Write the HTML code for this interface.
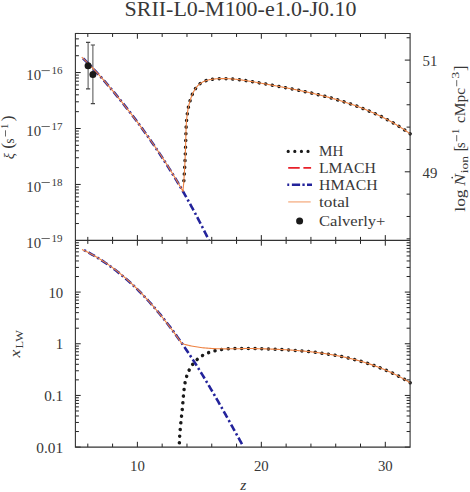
<!DOCTYPE html>
<html><head><meta charset="utf-8"><title>chart</title>
<style>html,body{margin:0;padding:0;background:#fff;}body{width:470px;height:492px;overflow:hidden;position:relative;font-family:"Liberation Serif",serif;}</style></head>
<body>
<svg width="470" height="492" viewBox="0 0 470 492" style="position:absolute;left:0;top:0;font-family:'Liberation Serif',serif">
<rect width="470" height="492" fill="#fff"/>
<defs><clipPath id="ct"><rect x="75.4" y="33.45" width="337.20000000000005" height="207.54999999999998"/></clipPath><clipPath id="cb"><rect x="75.4" y="240.4" width="337.20000000000005" height="207.9"/></clipPath></defs>
<g clip-path="url(#ct)">
<g stroke="#444" fill="none"><path stroke-width="0.95" d="M88.1,42.3V88.9M92.9,45V103.7"/><path stroke-width="1.2" d="M86,42.3h4.2M86,88.9h4.2M90.8,45h4.2M90.8,103.7h4.2"/></g>
<path d="M410.17,133.81 L409.49,133.33 L408.81,132.85 L408.13,132.37 L407.45,131.90 L406.77,131.43 L406.08,130.96 L405.40,130.50 L404.71,130.03 L404.02,129.58 L403.33,129.12 L402.64,128.67 L401.94,128.22 L401.25,127.78 L400.55,127.34 L399.86,126.90 L399.16,126.47 L398.46,126.03 L397.76,125.61 L397.06,125.18 L396.35,124.76 L395.65,124.34 L394.94,123.92 L394.23,123.51 L393.52,123.10 L392.81,122.69 L392.10,122.29 L391.39,121.89 L390.68,121.49 L389.96,121.10 L389.25,120.70 L388.53,120.32 L387.81,119.93 L387.09,119.55 L386.37,119.17 L385.65,118.79 L384.92,118.41 L384.20,118.04 L383.47,117.67 L382.75,117.31 L382.02,116.94 L381.29,116.58 L380.56,116.22 L379.83,115.87 L379.10,115.52 L378.36,115.17 L377.63,114.82 L376.89,114.47 L376.16,114.13 L375.42,113.79 L374.68,113.46 L373.94,113.12 L373.20,112.79 L372.46,112.46 L371.71,112.14 L370.97,111.81 L370.23,111.49 L369.48,111.17 L368.73,110.86 L367.99,110.54 L367.24,110.23 L366.49,109.92 L365.74,109.61 L364.99,109.31 L364.23,109.01 L363.48,108.71 L362.73,108.41 L361.97,108.11 L361.21,107.82 L360.46,107.53 L359.70,107.24 L358.94,106.96 L358.18,106.67 L357.42,106.39 L356.66,106.11 L355.90,105.83 L355.13,105.56 L354.37,105.29 L353.61,105.02 L352.84,104.75 L352.08,104.48 L351.31,104.22 L350.54,103.95 L349.77,103.69 L349.00,103.43 L348.23,103.18 L347.46,102.92 L346.69,102.67 L345.92,102.42 L345.15,102.17 L344.37,101.92 L343.60,101.68 L342.82,101.44 L342.05,101.19 L341.27,100.96 L340.50,100.72 L339.72,100.48 L338.94,100.25 L338.16,100.02 L337.38,99.79 L336.60,99.56 L335.82,99.33 L335.04,99.10 L334.26,98.88 L333.48,98.66 L332.69,98.44 L331.91,98.22 L331.12,98.00 L330.34,97.79 L329.55,97.57 L328.77,97.36 L327.98,97.15 L327.20,96.94 L326.41,96.73 L325.62,96.53 L324.83,96.32 L324.04,96.12 L323.25,95.92 L322.46,95.72 L321.67,95.52 L320.88,95.32 L320.09,95.12 L319.30,94.93 L318.51,94.73 L317.72,94.54 L316.92,94.35 L316.13,94.16 L315.34,93.97 L314.54,93.79 L313.75,93.60 L312.95,93.41 L312.16,93.23 L311.36,93.05 L310.57,92.87 L309.77,92.69 L308.98,92.51 L308.18,92.33 L307.38,92.15 L306.58,91.98 L305.79,91.80 L304.99,91.63 L304.19,91.46 L303.39,91.29 L302.59,91.12 L301.79,90.95 L301.00,90.78 L300.20,90.61 L299.40,90.44 L298.60,90.28 L297.80,90.11 L297.00,89.95 L296.20,89.79 L295.40,89.62 L294.60,89.46 L293.79,89.30 L292.99,89.14 L292.19,88.98 L291.39,88.82 L290.59,88.67 L289.79,88.51 L288.99,88.35 L288.18,88.20 L287.38,88.04 L286.58,87.89 L285.78,87.73 L284.98,87.58 L284.17,87.43 L283.37,87.28 L282.57,87.12 L281.77,86.97 L280.96,86.82 L280.16,86.67 L279.36,86.52 L278.56,86.37 L277.76,86.23 L276.95,86.08 L276.15,85.93 L275.35,85.78 L274.55,85.64 L273.74,85.49 L272.94,85.34 L272.14,85.20 L271.34,85.05 L270.54,84.91 L269.73,84.76 L268.93,84.62 L268.13,84.47 L267.33,84.33 L266.53,84.19 L265.73,84.04 L264.93,83.90 L264.12,83.76 L263.32,83.61 L262.52,83.47 L261.72,83.33 L260.92,83.18 L260.12,83.04 L259.32,82.90 L258.52,82.76 L257.72,82.61 L256.92,82.47 L256.13,82.33 L255.33,82.19 L254.53,82.05 L253.73,81.91 L252.93,81.77 L252.13,81.63 L251.33,81.49 L250.53,81.36 L249.73,81.22 L248.93,81.09 L248.13,80.96 L247.33,80.83 L246.53,80.71 L245.73,80.58 L244.93,80.46 L244.13,80.34 L243.33,80.23 L242.52,80.11 L241.72,80.00 L240.92,79.89 L240.11,79.79 L239.31,79.69 L238.50,79.59 L237.69,79.50 L236.89,79.41 L236.08,79.32 L235.27,79.24 L234.46,79.16 L233.65,79.09 L232.84,79.02 L232.02,78.96 L231.21,78.90 L230.39,78.84 L229.58,78.79 L228.76,78.75 L227.94,78.71 L227.12,78.68 L226.30,78.65 L225.48,78.63 L224.66,78.61 L223.83,78.60 L223.00,78.60 L222.18,78.60 L221.35,78.61 L220.52,78.63 L219.68,78.65 L218.85,78.68 L218.01,78.72 L217.18,78.76 L216.34,78.82 L215.51,78.88 L214.67,78.95 L213.84,79.04 L213.02,79.14 L212.20,79.25 L211.38,79.37 L210.57,79.51 L209.77,79.66 L208.97,79.83 L208.19,80.02 L207.41,80.22 L206.65,80.45 L205.90,80.69 L205.16,80.95 L204.43,81.24 L203.72,81.55 L203.02,81.87 L202.34,82.23 L201.67,82.61 L201.03,83.01 L200.40,83.44 L199.79,83.89 L199.20,84.38 L198.63,84.89 L198.08,85.42 L197.55,85.97 L197.04,86.55 L196.54,87.15 L196.06,87.77 L195.60,88.41 L195.16,89.07 L194.73,89.74 L194.31,90.44 L193.92,91.14 L193.53,91.86 L193.16,92.59 L192.81,93.34 L192.46,94.09 L192.14,94.85 L191.82,95.63 L191.52,96.41 L191.22,97.19 L190.94,97.99 L190.67,98.78 L190.41,99.58 L190.17,100.39 L189.93,101.19 L189.70,101.99 L189.48,102.80 L189.27,103.60 L189.06,104.41 L188.87,105.21 L188.69,106.02 L188.51,106.83 L188.34,107.63 L188.18,108.44 L188.03,109.25 L187.88,110.06 L187.74,110.87 L187.61,111.67 L187.48,112.48 L187.37,113.29 L187.25,114.10 L187.15,114.91 L187.05,115.72 L186.95,116.54 L186.86,117.35 L186.78,118.16 L186.70,118.97 L186.63,119.78 L186.56,120.59 L186.49,121.41 L186.43,122.22 L186.38,123.03 L186.32,123.85 L186.28,124.66 L186.23,125.47 L186.19,126.28 L186.15,127.10 L186.11,127.91 L186.08,128.72 L186.05,129.54 L186.02,130.35 L185.99,131.17 L185.96,131.98 L185.94,132.79 L185.91,133.61 L185.89,134.42 L185.87,135.23 L185.85,136.05 L185.83,136.86 L185.81,137.68 L185.79,138.49 L185.77,139.30 L185.75,140.12 L185.73,140.93 L185.71,141.74 L185.69,142.56 L185.66,143.37 L185.64,144.18 L185.61,144.99 L185.59,145.81 L185.56,146.62 L185.54,147.43 L185.51,148.24 L185.48,149.06 L185.45,149.87 L185.42,150.68 L185.39,151.49 L185.36,152.30 L185.33,153.12 L185.30,153.93 L185.27,154.74 L185.23,155.55 L185.20,156.36 L185.17,157.18 L185.13,157.99 L185.09,158.80 L185.06,159.61 L185.02,160.42 L184.98,161.24 L184.94,162.05 L184.90,162.86 L184.86,163.67 L184.82,164.48 L184.78,165.30 L184.74,166.11 L184.70,166.92 L184.65,167.73 L184.61,168.55 L184.56,169.36 L184.52,170.17 L184.47,170.99 L184.43,171.80 L184.38,172.61 L184.33,173.43 L184.28,174.24 L184.23,175.05 L184.18,175.87 L184.13,176.68 L184.08,177.49 L184.02,178.31 L183.97,179.12 L183.92,179.94 L183.86,180.75 L183.81,181.57 L183.75,182.38 L183.70,183.20 L183.64,184.01" fill="none" stroke="#1a1a1a" stroke-width="3.5" stroke-linecap="round" stroke-dasharray="0.01 6.69"/>
<path d="M81.79,57.14 L83.14,58.44 L84.48,59.76 L85.81,61.08 L87.14,62.41 L88.46,63.74 L89.77,65.09 L91.07,66.44 L92.37,67.80 L93.66,69.16 L94.94,70.53 L96.22,71.91 L97.49,73.30 L98.75,74.69 L100.01,76.08 L101.26,77.48 L102.51,78.89 L103.75,80.30 L104.98,81.72 L106.21,83.14 L107.44,84.56 L108.66,85.99 L109.88,87.43 L111.10,88.86 L112.30,90.30 L113.51,91.75 L114.71,93.20 L115.91,94.65 L117.11,96.10 L118.30,97.56 L119.48,99.02 L120.67,100.49 L121.85,101.95 L123.02,103.42 L124.20,104.90 L125.36,106.37 L126.53,107.85 L127.69,109.34 L128.85,110.82 L130.00,112.31 L131.15,113.80 L132.29,115.30 L133.43,116.80 L134.57,118.30 L135.70,119.80 L136.83,121.31 L137.96,122.82 L139.08,124.33 L140.20,125.85 L141.31,127.37 L142.42,128.89 L143.52,130.41 L144.62,131.94 L145.71,133.47 L146.81,135.00 L147.89,136.54 L148.98,138.08 L150.06,139.62 L151.13,141.17 L152.20,142.71 L153.27,144.26 L154.33,145.82 L155.39,147.37 L156.44,148.93 L157.49,150.49 L158.54,152.06 L159.58,153.62 L160.62,155.19 L161.65,156.77 L162.68,158.34 L163.70,159.92 L164.72,161.50 L165.74,163.08 L166.75,164.67 L167.76,166.25 L168.76,167.85 L169.76,169.44 L170.76,171.04 L171.75,172.63 L172.74,174.24 L173.72,175.84 L174.70,177.45 L175.68,179.05 L176.65,180.67 L177.62,182.28 L178.58,183.90 L179.54,185.52 L180.49,187.14 L181.44,188.76 L182.39,190.39 L183.33,192.02 L184.27,193.65 L185.21,195.28 L186.14,196.92 L187.06,198.56 L187.98,200.20 L188.90,201.84 L189.82,203.49 L190.73,205.13 L191.63,206.78 L192.53,208.44 L193.43,210.09 L194.32,211.75 L195.21,213.41 L196.10,215.07 L196.98,216.74 L197.86,218.40 L198.73,220.07 L199.60,221.74 L200.46,223.42 L201.32,225.09 L202.18,226.77 L203.03,228.45 L203.88,230.13 L204.73,231.82 L205.57,233.50 L206.40,235.19 L207.24,236.88 L208.07,238.57 L208.89,240.27" fill="none" stroke="#23239b" stroke-width="2.6" stroke-dasharray="7.3 2.8 2.2 2.8" stroke-dashoffset="13.3"/>
<path d="M81.76,57.16 L83.30,58.63 L84.83,60.12 L86.35,61.62 L87.86,63.12 L89.36,64.64 L90.85,66.17 L92.32,67.71 L93.79,69.25 L95.25,70.81 L96.70,72.37 L98.14,73.95 L99.57,75.53 L100.99,77.11 L102.41,78.71 L103.82,80.31 L105.22,81.92 L106.61,83.54 L108.00,85.16 L109.38,86.79 L110.76,88.42 L112.12,90.06 L113.49,91.70 L114.85,93.35 L116.20,95.00 L117.55,96.65 L118.90,98.31 L120.24,99.98 L121.57,101.65 L122.90,103.32 L124.23,105.00 L125.55,106.68 L126.86,108.36 L128.17,110.05 L129.48,111.74 L130.78,113.43 L132.08,115.13 L133.38,116.83 L134.67,118.54 L135.95,120.24 L137.24,121.95 L138.51,123.67 L139.79,125.38 L141.06,127.10 L142.32,128.82 L143.58,130.55 L144.84,132.28 L146.09,134.01 L147.33,135.74 L148.57,137.48 L149.81,139.22 L151.04,140.97 L152.26,142.72 L153.48,144.47 L154.70,146.23 L155.91,147.99 L157.11,149.75 L158.31,151.52 L159.50,153.29 L160.68,155.07 L161.86,156.85 L163.04,158.63 L164.21,160.42 L165.37,162.21 L166.52,164.01 L167.67,165.81 L168.81,167.62 L169.95,169.43 L171.07,171.24 L172.19,173.06 L173.31,174.88 L174.42,176.71 L175.52,178.54 L176.61,180.38 L177.69,182.22 L178.77,184.07 L179.84,185.92 L180.91,187.77 L181.96,189.63 L183.01,191.50 L183.20,188.00 L183.64,184.01 L183.70,183.20 L183.75,182.38 L183.81,181.57 L183.86,180.75 L183.92,179.94 L183.97,179.12 L184.02,178.31 L184.08,177.49 L184.13,176.68 L184.18,175.87 L184.23,175.05 L184.28,174.24 L184.33,173.43 L184.38,172.61 L184.43,171.80 L184.47,170.99 L184.52,170.17 L184.56,169.36 L184.61,168.55 L184.65,167.73 L184.70,166.92 L184.74,166.11 L184.78,165.30 L184.82,164.48 L184.86,163.67 L184.90,162.86 L184.94,162.05 L184.98,161.24 L185.02,160.42 L185.06,159.61 L185.09,158.80 L185.13,157.99 L185.17,157.18 L185.20,156.36 L185.23,155.55 L185.27,154.74 L185.30,153.93 L185.33,153.12 L185.36,152.30 L185.39,151.49 L185.42,150.68 L185.45,149.87 L185.48,149.06 L185.51,148.24 L185.54,147.43 L185.56,146.62 L185.59,145.81 L185.61,144.99 L185.64,144.18 L185.66,143.37 L185.69,142.56 L185.71,141.74 L185.73,140.93 L185.75,140.12 L185.77,139.30 L185.79,138.49 L185.81,137.68 L185.83,136.86 L185.85,136.05 L185.87,135.23 L185.89,134.42 L185.91,133.61 L185.94,132.79 L185.96,131.98 L185.99,131.17 L186.02,130.35 L186.05,129.54 L186.08,128.72 L186.11,127.91 L186.15,127.10 L186.19,126.28 L186.23,125.47 L186.28,124.66 L186.32,123.85 L186.38,123.03 L186.43,122.22 L186.49,121.41 L186.56,120.59 L186.63,119.78 L186.70,118.97 L186.78,118.16 L186.86,117.35 L186.95,116.54 L187.05,115.72 L187.15,114.91 L187.25,114.10 L187.37,113.29 L187.48,112.48 L187.61,111.67 L187.74,110.87 L187.88,110.06 L188.03,109.25 L188.18,108.44 L188.34,107.63 L188.51,106.83 L188.69,106.02 L188.87,105.21 L189.06,104.41 L189.27,103.60 L189.48,102.80 L189.70,101.99 L189.93,101.19 L190.17,100.39 L190.41,99.58 L190.67,98.78 L190.94,97.99 L191.22,97.19 L191.52,96.41 L191.82,95.63 L192.14,94.85 L192.46,94.09 L192.81,93.34 L193.16,92.59 L193.53,91.86 L193.92,91.14 L194.31,90.44 L194.73,89.74 L195.16,89.07 L195.60,88.41 L196.06,87.77 L196.54,87.15 L197.04,86.55 L197.55,85.97 L198.08,85.42 L198.63,84.89 L199.20,84.38 L199.79,83.89 L200.40,83.44 L201.03,83.01 L201.67,82.61 L202.34,82.23 L203.02,81.87 L203.72,81.55 L204.43,81.24 L205.16,80.95 L205.90,80.69 L206.65,80.45 L207.41,80.22 L208.19,80.02 L208.97,79.83 L209.77,79.66 L210.57,79.51 L211.38,79.37 L212.20,79.25 L213.02,79.14 L213.84,79.04 L214.67,78.95 L215.51,78.88 L216.34,78.82 L217.18,78.76 L218.01,78.72 L218.85,78.68 L219.68,78.65 L220.52,78.63 L221.35,78.61 L222.18,78.60 L223.00,78.60 L223.83,78.60 L224.66,78.61 L225.48,78.63 L226.30,78.65 L227.12,78.68 L227.94,78.71 L228.76,78.75 L229.58,78.79 L230.39,78.84 L231.21,78.90 L232.02,78.96 L232.84,79.02 L233.65,79.09 L234.46,79.16 L235.27,79.24 L236.08,79.32 L236.89,79.41 L237.69,79.50 L238.50,79.59 L239.31,79.69 L240.11,79.79 L240.92,79.89 L241.72,80.00 L242.52,80.11 L243.33,80.23 L244.13,80.34 L244.93,80.46 L245.73,80.58 L246.53,80.71 L247.33,80.83 L248.13,80.96 L248.93,81.09 L249.73,81.22 L250.53,81.36 L251.33,81.49 L252.13,81.63 L252.93,81.77 L253.73,81.91 L254.53,82.05 L255.33,82.19 L256.13,82.33 L256.92,82.47 L257.72,82.61 L258.52,82.76 L259.32,82.90 L260.12,83.04 L260.92,83.18 L261.72,83.33 L262.52,83.47 L263.32,83.61 L264.12,83.76 L264.93,83.90 L265.73,84.04 L266.53,84.19 L267.33,84.33 L268.13,84.47 L268.93,84.62 L269.73,84.76 L270.54,84.91 L271.34,85.05 L272.14,85.20 L272.94,85.34 L273.74,85.49 L274.55,85.64 L275.35,85.78 L276.15,85.93 L276.95,86.08 L277.76,86.23 L278.56,86.37 L279.36,86.52 L280.16,86.67 L280.96,86.82 L281.77,86.97 L282.57,87.12 L283.37,87.28 L284.17,87.43 L284.98,87.58 L285.78,87.73 L286.58,87.89 L287.38,88.04 L288.18,88.20 L288.99,88.35 L289.79,88.51 L290.59,88.67 L291.39,88.82 L292.19,88.98 L292.99,89.14 L293.79,89.30 L294.60,89.46 L295.40,89.62 L296.20,89.79 L297.00,89.95 L297.80,90.11 L298.60,90.28 L299.40,90.44 L300.20,90.61 L301.00,90.78 L301.79,90.95 L302.59,91.12 L303.39,91.29 L304.19,91.46 L304.99,91.63 L305.79,91.80 L306.58,91.98 L307.38,92.15 L308.18,92.33 L308.98,92.51 L309.77,92.69 L310.57,92.87 L311.36,93.05 L312.16,93.23 L312.95,93.41 L313.75,93.60 L314.54,93.79 L315.34,93.97 L316.13,94.16 L316.92,94.35 L317.72,94.54 L318.51,94.73 L319.30,94.93 L320.09,95.12 L320.88,95.32 L321.67,95.52 L322.46,95.72 L323.25,95.92 L324.04,96.12 L324.83,96.32 L325.62,96.53 L326.41,96.73 L327.20,96.94 L327.98,97.15 L328.77,97.36 L329.55,97.57 L330.34,97.79 L331.12,98.00 L331.91,98.22 L332.69,98.44 L333.48,98.66 L334.26,98.88 L335.04,99.10 L335.82,99.33 L336.60,99.56 L337.38,99.79 L338.16,100.02 L338.94,100.25 L339.72,100.48 L340.50,100.72 L341.27,100.96 L342.05,101.19 L342.82,101.44 L343.60,101.68 L344.37,101.92 L345.15,102.17 L345.92,102.42 L346.69,102.67 L347.46,102.92 L348.23,103.18 L349.00,103.43 L349.77,103.69 L350.54,103.95 L351.31,104.22 L352.08,104.48 L352.84,104.75 L353.61,105.02 L354.37,105.29 L355.13,105.56 L355.90,105.83 L356.66,106.11 L357.42,106.39 L358.18,106.67 L358.94,106.96 L359.70,107.24 L360.46,107.53 L361.21,107.82 L361.97,108.11 L362.73,108.41 L363.48,108.71 L364.23,109.01 L364.99,109.31 L365.74,109.61 L366.49,109.92 L367.24,110.23 L367.99,110.54 L368.73,110.86 L369.48,111.17 L370.23,111.49 L370.97,111.81 L371.71,112.14 L372.46,112.46 L373.20,112.79 L373.94,113.12 L374.68,113.46 L375.42,113.79 L376.16,114.13 L376.89,114.47 L377.63,114.82 L378.36,115.17 L379.10,115.52 L379.83,115.87 L380.56,116.22 L381.29,116.58 L382.02,116.94 L382.75,117.31 L383.47,117.67 L384.20,118.04 L384.92,118.41 L385.65,118.79 L386.37,119.17 L387.09,119.55 L387.81,119.93 L388.53,120.32 L389.25,120.70 L389.96,121.10 L390.68,121.49 L391.39,121.89 L392.10,122.29 L392.81,122.69 L393.52,123.10 L394.23,123.51 L394.94,123.92 L395.65,124.34 L396.35,124.76 L397.06,125.18 L397.76,125.61 L398.46,126.03 L399.16,126.47 L399.86,126.90 L400.55,127.34 L401.25,127.78 L401.94,128.22 L402.64,128.67 L403.33,129.12 L404.02,129.58 L404.71,130.03 L405.40,130.50 L406.08,130.96 L406.77,131.43 L407.45,131.90 L408.13,132.37 L408.81,132.85 L409.49,133.33 L410.17,133.81" fill="none" stroke="#ee8242" stroke-width="1.1" stroke-linejoin="round"/>
<circle cx="88.1" cy="65.7" r="3.5" fill="#1a1a1a"/><circle cx="92.9" cy="74.4" r="3.5" fill="#1a1a1a"/>
</g>
<g clip-path="url(#cb)">
<path d="M410.16,382.74 L409.49,382.33 L408.81,381.92 L408.13,381.51 L407.45,381.10 L406.76,380.70 L406.08,380.30 L405.40,379.91 L404.71,379.52 L404.03,379.13 L403.34,378.75 L402.65,378.36 L401.96,377.99 L401.27,377.61 L400.58,377.24 L399.89,376.87 L399.20,376.51 L398.50,376.14 L397.81,375.79 L397.11,375.43 L396.41,375.08 L395.72,374.73 L395.02,374.38 L394.32,374.04 L393.62,373.70 L392.92,373.36 L392.21,373.03 L391.51,372.70 L390.80,372.37 L390.10,372.05 L389.39,371.73 L388.69,371.41 L387.98,371.09 L387.27,370.78 L386.56,370.47 L385.85,370.16 L385.14,369.86 L384.42,369.56 L383.71,369.26 L383.00,368.97 L382.28,368.68 L381.57,368.39 L380.85,368.10 L380.13,367.82 L379.41,367.54 L378.69,367.26 L377.97,366.98 L377.25,366.71 L376.53,366.44 L375.81,366.17 L375.09,365.91 L374.36,365.65 L373.64,365.39 L372.91,365.13 L372.19,364.88 L371.46,364.63 L370.73,364.38 L370.00,364.14 L369.27,363.89 L368.54,363.65 L367.81,363.42 L367.08,363.18 L366.35,362.95 L365.62,362.72 L364.88,362.49 L364.15,362.26 L363.41,362.04 L362.68,361.82 L361.94,361.60 L361.21,361.39 L360.47,361.18 L359.73,360.97 L358.99,360.76 L358.25,360.55 L357.51,360.35 L356.77,360.15 L356.03,359.95 L355.29,359.76 L354.54,359.56 L353.80,359.37 L353.06,359.18 L352.31,358.99 L351.57,358.81 L350.82,358.63 L350.07,358.45 L349.33,358.27 L348.58,358.09 L347.83,357.92 L347.08,357.75 L346.33,357.58 L345.58,357.41 L344.83,357.25 L344.08,357.08 L343.33,356.92 L342.58,356.76 L341.83,356.61 L341.07,356.45 L340.32,356.30 L339.56,356.15 L338.81,356.00 L338.05,355.86 L337.30,355.71 L336.54,355.57 L335.79,355.43 L335.03,355.29 L334.27,355.15 L333.51,355.02 L332.76,354.88 L332.00,354.75 L331.24,354.62 L330.48,354.50 L329.72,354.37 L328.96,354.25 L328.20,354.13 L327.44,354.01 L326.67,353.89 L325.91,353.77 L325.15,353.66 L324.39,353.54 L323.62,353.43 L322.86,353.32 L322.10,353.21 L321.33,353.11 L320.57,353.00 L319.80,352.90 L319.04,352.80 L318.27,352.70 L317.50,352.60 L316.74,352.50 L315.97,352.41 L315.20,352.31 L314.44,352.22 L313.67,352.13 L312.90,352.04 L312.13,351.96 L311.36,351.87 L310.59,351.79 L309.82,351.70 L309.05,351.62 L308.28,351.54 L307.51,351.46 L306.74,351.38 L305.97,351.31 L305.20,351.23 L304.43,351.16 L303.66,351.09 L302.89,351.02 L302.12,350.95 L301.35,350.88 L300.57,350.81 L299.80,350.75 L299.03,350.68 L298.26,350.62 L297.48,350.56 L296.71,350.50 L295.94,350.44 L295.16,350.38 L294.39,350.32 L293.62,350.27 L292.84,350.21 L292.07,350.16 L291.29,350.11 L290.52,350.06 L289.75,350.01 L288.97,349.96 L288.20,349.91 L287.42,349.86 L286.65,349.81 L285.87,349.77 L285.10,349.73 L284.32,349.68 L283.55,349.64 L282.77,349.60 L282.00,349.56 L281.22,349.52 L280.45,349.48 L279.67,349.44 L278.90,349.40 L278.12,349.37 L277.34,349.33 L276.57,349.30 L275.79,349.27 L275.02,349.23 L274.24,349.20 L273.47,349.17 L272.69,349.14 L271.91,349.11 L271.14,349.08 L270.36,349.05 L269.59,349.02 L268.81,349.00 L268.04,348.97 L267.26,348.94 L266.49,348.92 L265.71,348.89 L264.94,348.87 L264.16,348.85 L263.39,348.82 L262.61,348.80 L261.84,348.78 L261.06,348.76 L260.29,348.74 L259.51,348.72 L258.74,348.70 L257.96,348.68 L257.19,348.66 L256.41,348.64 L255.64,348.63 L254.87,348.61 L254.09,348.59 L253.32,348.58 L252.55,348.56 L251.77,348.54 L251.00,348.53 L250.23,348.51 L249.45,348.50 L248.68,348.48 L247.91,348.47 L247.14,348.45 L246.36,348.44 L245.59,348.43 L244.82,348.42 L244.05,348.41 L243.28,348.40 L242.51,348.39 L241.74,348.38 L240.97,348.38 L240.20,348.37 L239.43,348.37 L238.66,348.38 L237.89,348.38 L237.12,348.39 L236.35,348.40 L235.58,348.41 L234.82,348.43 L234.05,348.45 L233.28,348.47 L232.51,348.50 L231.75,348.54 L230.98,348.57 L230.22,348.62 L229.45,348.66 L228.69,348.72 L227.92,348.77 L227.16,348.84 L226.39,348.91 L225.63,348.98 L224.87,349.06 L224.11,349.15 L223.34,349.24 L222.58,349.34 L221.82,349.45 L221.06,349.56 L220.30,349.68 L219.54,349.81 L218.78,349.95 L218.02,350.09 L217.27,350.24 L216.51,350.40 L215.75,350.57 L215.00,350.75 L214.24,350.93 L213.49,351.13 L212.73,351.34 L211.98,351.55 L211.23,351.78 L210.49,352.01 L209.75,352.26 L209.01,352.52 L208.28,352.79 L207.56,353.07 L206.84,353.37 L206.12,353.68 L205.42,354.00 L204.72,354.33 L204.03,354.68 L203.35,355.05 L202.68,355.43 L202.02,355.82 L201.37,356.23 L200.74,356.66 L200.11,357.10 L199.49,357.55 L198.89,358.02 L198.29,358.50 L197.71,359.00 L197.14,359.50 L196.58,360.02 L196.03,360.56 L195.49,361.10 L194.97,361.66 L194.46,362.22 L193.96,362.80 L193.47,363.39 L193.00,363.99 L192.54,364.59 L192.09,365.21 L191.65,365.84 L191.23,366.47 L190.82,367.11 L190.43,367.77 L190.05,368.42 L189.68,369.09 L189.33,369.76 L188.99,370.44 L188.66,371.13 L188.35,371.82 L188.05,372.52 L187.76,373.23 L187.49,373.94 L187.23,374.65 L186.98,375.37 L186.74,376.10 L186.52,376.83 L186.30,377.56 L186.09,378.30 L185.90,379.04 L185.71,379.79 L185.54,380.54 L185.37,381.30 L185.21,382.06 L185.06,382.82 L184.92,383.58 L184.78,384.35 L184.65,385.12 L184.53,385.89 L184.42,386.67 L184.31,387.45 L184.20,388.23 L184.11,389.01 L184.01,389.79 L183.92,390.57 L183.84,391.36 L183.76,392.14 L183.68,392.93 L183.61,393.72 L183.53,394.50 L183.47,395.29 L183.40,396.08 L183.33,396.87 L183.27,397.65 L183.20,398.44 L183.14,399.22 L183.08,400.01 L183.02,400.79 L182.95,401.57 L182.89,402.35 L182.82,403.13 L182.75,403.91 L182.69,404.68 L182.61,405.46 L182.54,406.23 L182.47,407.00 L182.40,407.77 L182.32,408.53 L182.24,409.30 L182.17,410.06 L182.09,410.83 L182.01,411.59 L181.93,412.35 L181.85,413.11 L181.77,413.87 L181.69,414.63 L181.61,415.39 L181.53,416.14 L181.45,416.90 L181.36,417.66 L181.28,418.42 L181.20,419.17 L181.12,419.93 L181.04,420.68 L180.96,421.44 L180.88,422.20 L180.81,422.96 L180.73,423.71 L180.65,424.47 L180.58,425.23 L180.50,425.99 L180.43,426.75 L180.36,427.51 L180.29,428.27 L180.22,429.04 L180.15,429.80 L180.09,430.57 L180.02,431.33 L179.96,432.10 L179.90,432.87 L179.84,433.64 L179.79,434.42 L179.73,435.19 L179.68,435.97 L179.64,436.75 L179.59,437.53 L179.55,438.31 L179.51,439.10 L179.47,439.88 L179.43,440.67 L179.40,441.47 L179.37,442.26 L179.35,443.06" fill="none" stroke="#1a1a1a" stroke-width="3.5" stroke-linecap="round" stroke-dasharray="0.01 6.69"/>
<path d="M82.05,249.21 L83.76,250.06 L85.45,250.92 L87.12,251.80 L88.79,252.70 L90.45,253.61 L92.09,254.53 L93.72,255.48 L95.34,256.43 L96.95,257.40 L98.54,258.38 L100.13,259.38 L101.70,260.39 L103.26,261.42 L104.81,262.46 L106.35,263.51 L107.88,264.58 L109.40,265.65 L110.91,266.74 L112.41,267.85 L113.89,268.96 L115.37,270.09 L116.84,271.23 L118.29,272.38 L119.74,273.55 L121.18,274.72 L122.60,275.91 L124.02,277.11 L125.42,278.32 L126.82,279.54 L128.21,280.77 L129.59,282.01 L130.96,283.26 L132.32,284.52 L133.67,285.79 L135.01,287.07 L136.35,288.36 L137.67,289.66 L138.99,290.97 L140.30,292.29 L141.60,293.61 L142.89,294.95 L144.17,296.29 L145.44,297.65 L146.71,299.01 L147.97,300.37 L149.22,301.75 L150.46,303.13 L151.70,304.52 L152.93,305.92 L154.15,307.33 L155.36,308.74 L156.57,310.16 L157.77,311.58 L158.96,313.01 L160.15,314.45 L161.33,315.89 L162.50,317.34 L163.67,318.80 L164.83,320.26 L165.98,321.72 L167.13,323.19 L168.27,324.67 L169.40,326.15 L170.53,327.64 L171.65,329.13 L172.77,330.63 L173.88,332.13 L174.98,333.63 L176.08,335.14 L177.18,336.66 L178.26,338.17 L179.35,339.70 L180.42,341.22 L181.50,342.75 L182.56,344.29 L183.62,345.83 L184.68,347.37 L185.73,348.92 L186.78,350.47 L187.82,352.02 L188.86,353.58 L189.89,355.14 L190.92,356.71 L191.94,358.27 L192.96,359.84 L193.97,361.42 L194.98,362.99 L195.99,364.57 L196.99,366.15 L197.99,367.74 L198.98,369.32 L199.97,370.91 L200.95,372.51 L201.94,374.10 L202.91,375.70 L203.89,377.30 L204.86,378.90 L205.83,380.50 L206.79,382.10 L207.75,383.71 L208.71,385.32 L209.66,386.92 L210.62,388.54 L211.56,390.15 L212.51,391.76 L213.45,393.38 L214.39,394.99 L215.33,396.61 L216.26,398.23 L217.20,399.84 L218.13,401.46 L219.05,403.08 L219.98,404.70 L220.90,406.32 L221.82,407.94 L222.74,409.57 L223.66,411.19 L224.57,412.81 L225.48,414.43 L226.39,416.05 L227.30,417.67 L228.21,419.30 L229.12,420.92 L230.02,422.54 L230.92,424.16 L231.83,425.78 L232.73,427.40 L233.63,429.01 L234.52,430.63 L235.42,432.25 L236.32,433.86 L237.21,435.48 L238.11,437.09 L239.00,438.70 L239.90,440.31 L240.79,441.92 L241.68,443.52 L242.57,445.13 L243.47,446.73" fill="none" stroke="#23239b" stroke-width="2.6" stroke-dasharray="7.3 2.8 2.2 2.8" stroke-dashoffset="7.9"/>
<path d="M82.00,249.50 L83.61,250.25 L85.21,251.01 L86.80,251.79 L88.38,252.59 L89.95,253.41 L91.51,254.24 L93.05,255.08 L94.59,255.95 L96.11,256.82 L97.63,257.72 L99.13,258.62 L100.63,259.54 L102.11,260.48 L103.58,261.43 L105.05,262.39 L106.50,263.37 L107.94,264.36 L109.38,265.37 L110.80,266.39 L112.22,267.42 L113.62,268.46 L115.02,269.52 L116.41,270.59 L117.79,271.67 L119.15,272.76 L120.51,273.87 L121.86,274.98 L123.21,276.11 L124.54,277.25 L125.86,278.40 L127.18,279.56 L128.48,280.73 L129.78,281.91 L131.07,283.10 L132.36,284.30 L133.63,285.51 L134.90,286.73 L136.15,287.96 L137.40,289.19 L138.64,290.44 L139.88,291.69 L141.11,292.95 L142.32,294.22 L143.54,295.50 L144.74,296.79 L145.94,298.08 L147.13,299.38 L148.31,300.69 L149.48,302.00 L150.65,303.32 L151.81,304.65 L152.97,305.98 L154.12,307.32 L155.26,308.67 L156.39,310.02 L157.52,311.37 L158.64,312.73 L159.76,314.10 L160.87,315.47 L161.97,316.84 L163.07,318.22 L164.16,319.61 L165.24,320.99 L166.32,322.38 L167.40,323.77 L168.47,325.17 L169.53,326.57 L170.59,327.97 L171.64,329.38 L172.69,330.78 L173.73,332.19 L174.76,333.60 L175.80,335.02 L176.82,336.43 L177.84,337.85 L178.86,339.26 L179.87,340.68 L180.88,342.10 L181.89,343.51 L183.51,344.03 L185.06,344.47 L186.61,344.88 L188.17,345.26 L189.73,345.62 L191.30,345.96 L192.87,346.27 L194.44,346.56 L196.02,346.83 L197.60,347.08 L199.18,347.31 L200.76,347.52 L202.35,347.71 L203.94,347.88 L205.54,348.03 L207.13,348.17 L208.73,348.29 L210.33,348.40 L211.93,348.50 L213.53,348.58 L215.14,348.64 L216.74,348.70 L218.35,348.75 L219.95,348.78 L221.56,348.81 L223.17,348.82 L224.78,348.83 L226.38,348.83 L227.99,348.83 L229.59,348.82 L231.20,348.80 L232.80,348.78 L234.41,348.76 L236.01,348.74 L237.61,348.71 L239.21,348.68 L240.81,348.65 L242.40,348.62 L243.99,348.60 L244.82,348.42 L245.59,348.43 L246.36,348.44 L247.14,348.45 L247.91,348.47 L248.68,348.48 L249.45,348.50 L250.23,348.51 L251.00,348.53 L251.77,348.54 L252.55,348.56 L253.32,348.58 L254.09,348.59 L254.87,348.61 L255.64,348.63 L256.41,348.64 L257.19,348.66 L257.96,348.68 L258.74,348.70 L259.51,348.72 L260.29,348.74 L261.06,348.76 L261.84,348.78 L262.61,348.80 L263.39,348.82 L264.16,348.85 L264.94,348.87 L265.71,348.89 L266.49,348.92 L267.26,348.94 L268.04,348.97 L268.81,349.00 L269.59,349.02 L270.36,349.05 L271.14,349.08 L271.91,349.11 L272.69,349.14 L273.47,349.17 L274.24,349.20 L275.02,349.23 L275.79,349.27 L276.57,349.30 L277.34,349.33 L278.12,349.37 L278.90,349.40 L279.67,349.44 L280.45,349.48 L281.22,349.52 L282.00,349.56 L282.77,349.60 L283.55,349.64 L284.32,349.68 L285.10,349.73 L285.87,349.77 L286.65,349.81 L287.42,349.86 L288.20,349.91 L288.97,349.96 L289.75,350.01 L290.52,350.06 L291.29,350.11 L292.07,350.16 L292.84,350.21 L293.62,350.27 L294.39,350.32 L295.16,350.38 L295.94,350.44 L296.71,350.50 L297.48,350.56 L298.26,350.62 L299.03,350.68 L299.80,350.75 L300.57,350.81 L301.35,350.88 L302.12,350.95 L302.89,351.02 L303.66,351.09 L304.43,351.16 L305.20,351.23 L305.97,351.31 L306.74,351.38 L307.51,351.46 L308.28,351.54 L309.05,351.62 L309.82,351.70 L310.59,351.79 L311.36,351.87 L312.13,351.96 L312.90,352.04 L313.67,352.13 L314.44,352.22 L315.20,352.31 L315.97,352.41 L316.74,352.50 L317.50,352.60 L318.27,352.70 L319.04,352.80 L319.80,352.90 L320.57,353.00 L321.33,353.11 L322.10,353.21 L322.86,353.32 L323.62,353.43 L324.39,353.54 L325.15,353.66 L325.91,353.77 L326.67,353.89 L327.44,354.01 L328.20,354.13 L328.96,354.25 L329.72,354.37 L330.48,354.50 L331.24,354.62 L332.00,354.75 L332.76,354.88 L333.51,355.02 L334.27,355.15 L335.03,355.29 L335.79,355.43 L336.54,355.57 L337.30,355.71 L338.05,355.86 L338.81,356.00 L339.56,356.15 L340.32,356.30 L341.07,356.45 L341.83,356.61 L342.58,356.76 L343.33,356.92 L344.08,357.08 L344.83,357.25 L345.58,357.41 L346.33,357.58 L347.08,357.75 L347.83,357.92 L348.58,358.09 L349.33,358.27 L350.07,358.45 L350.82,358.63 L351.57,358.81 L352.31,358.99 L353.06,359.18 L353.80,359.37 L354.54,359.56 L355.29,359.76 L356.03,359.95 L356.77,360.15 L357.51,360.35 L358.25,360.55 L358.99,360.76 L359.73,360.97 L360.47,361.18 L361.21,361.39 L361.94,361.60 L362.68,361.82 L363.41,362.04 L364.15,362.26 L364.88,362.49 L365.62,362.72 L366.35,362.95 L367.08,363.18 L367.81,363.42 L368.54,363.65 L369.27,363.89 L370.00,364.14 L370.73,364.38 L371.46,364.63 L372.19,364.88 L372.91,365.13 L373.64,365.39 L374.36,365.65 L375.09,365.91 L375.81,366.17 L376.53,366.44 L377.25,366.71 L377.97,366.98 L378.69,367.26 L379.41,367.54 L380.13,367.82 L380.85,368.10 L381.57,368.39 L382.28,368.68 L383.00,368.97 L383.71,369.26 L384.42,369.56 L385.14,369.86 L385.85,370.16 L386.56,370.47 L387.27,370.78 L387.98,371.09 L388.69,371.41 L389.39,371.73 L390.10,372.05 L390.80,372.37 L391.51,372.70 L392.21,373.03 L392.92,373.36 L393.62,373.70 L394.32,374.04 L395.02,374.38 L395.72,374.73 L396.41,375.08 L397.11,375.43 L397.81,375.79 L398.50,376.14 L399.20,376.51 L399.89,376.87 L400.58,377.24 L401.27,377.61 L401.96,377.99 L402.65,378.36 L403.34,378.75 L404.03,379.13 L404.71,379.52 L405.40,379.91 L406.08,380.30 L406.76,380.70 L407.45,381.10 L408.13,381.51 L408.81,381.92 L409.49,382.33 L410.16,382.74" fill="none" stroke="#ee8242" stroke-width="1.1" stroke-linejoin="round"/>
</g>
<path d="M87.80,33.45v3.5M87.80,236.9v7.0M87.80,447.1v-3.5M112.59,33.45v3.5M112.59,236.9v7.0M112.59,447.1v-3.5M137.38,33.45v5.3M137.38,235.1v10.6M137.38,447.1v-5.3M162.17,33.45v3.5M162.17,236.9v7.0M162.17,447.1v-3.5M186.97,33.45v3.5M186.97,236.9v7.0M186.97,447.1v-3.5M211.76,33.45v3.5M211.76,236.9v7.0M211.76,447.1v-3.5M236.55,33.45v3.5M236.55,236.9v7.0M236.55,447.1v-3.5M261.34,33.45v5.3M261.34,235.1v10.6M261.34,447.1v-5.3M286.14,33.45v3.5M286.14,236.9v7.0M286.14,447.1v-3.5M310.93,33.45v3.5M310.93,236.9v7.0M310.93,447.1v-3.5M335.72,33.45v3.5M335.72,236.9v7.0M335.72,447.1v-3.5M360.51,33.45v3.5M360.51,236.9v7.0M360.51,447.1v-3.5M385.31,33.45v5.3M385.31,235.1v10.6M385.31,447.1v-5.3M75.4,223.56h3.5M75.4,213.71h3.5M75.4,206.72h3.5M75.4,201.29h3.5M75.4,196.86h3.5M75.4,193.12h3.5M75.4,189.87h3.5M75.4,187.01h3.5M75.4,184.45h5.3M75.4,167.61h3.5M75.4,157.76h3.5M75.4,150.77h3.5M75.4,145.35h3.5M75.4,140.92h3.5M75.4,137.17h3.5M75.4,133.93h3.5M75.4,131.06h3.5M75.4,128.50h5.3M75.4,111.66h3.5M75.4,101.81h3.5M75.4,94.82h3.5M75.4,89.40h3.5M75.4,84.97h3.5M75.4,81.22h3.5M75.4,77.98h3.5M75.4,75.12h3.5M75.4,72.56h5.3M75.4,55.71h3.5M75.4,45.86h3.5M75.4,38.87h3.5M75.4,33.45h3.5M410.1,238.82h-3.5M410.1,216.48h-3.5M410.1,194.14h-3.5M410.1,171.80h-5.3M410.1,149.46h-3.5M410.1,127.12h-3.5M410.1,104.78h-3.5M410.1,82.44h-3.5M410.1,60.10h-5.3M410.1,37.76h-3.5M75.4,447.10h5.3M410.1,447.10h-5.3M75.4,431.54h3.5M410.1,431.54h-3.5M75.4,422.44h3.5M410.1,422.44h-3.5M75.4,415.99h3.5M410.1,415.99h-3.5M75.4,410.98h3.5M410.1,410.98h-3.5M75.4,406.89h3.5M410.1,406.89h-3.5M75.4,403.43h3.5M410.1,403.43h-3.5M75.4,400.43h3.5M410.1,400.43h-3.5M75.4,397.79h3.5M410.1,397.79h-3.5M75.4,395.43h5.3M410.1,395.43h-5.3M75.4,379.87h3.5M410.1,379.87h-3.5M75.4,370.77h3.5M410.1,370.77h-3.5M75.4,364.31h3.5M410.1,364.31h-3.5M75.4,359.31h3.5M410.1,359.31h-3.5M75.4,355.21h3.5M410.1,355.21h-3.5M75.4,351.75h3.5M410.1,351.75h-3.5M75.4,348.76h3.5M410.1,348.76h-3.5M75.4,346.11h3.5M410.1,346.11h-3.5M75.4,343.75h5.3M410.1,343.75h-5.3M75.4,328.19h3.5M410.1,328.19h-3.5M75.4,319.09h3.5M410.1,319.09h-3.5M75.4,312.64h3.5M410.1,312.64h-3.5M75.4,307.63h3.5M410.1,307.63h-3.5M75.4,303.54h3.5M410.1,303.54h-3.5M75.4,300.08h3.5M410.1,300.08h-3.5M75.4,297.08h3.5M410.1,297.08h-3.5M75.4,294.44h3.5M410.1,294.44h-3.5M75.4,292.08h5.3M410.1,292.08h-5.3M75.4,276.52h3.5M410.1,276.52h-3.5M75.4,267.42h3.5M410.1,267.42h-3.5M75.4,260.96h3.5M410.1,260.96h-3.5M75.4,255.96h3.5M410.1,255.96h-3.5M75.4,251.86h3.5M410.1,251.86h-3.5M75.4,248.40h3.5M410.1,248.40h-3.5M75.4,245.41h3.5M410.1,245.41h-3.5M75.4,242.76h3.5M410.1,242.76h-3.5" stroke="#222" stroke-width="1" fill="none"/>
<path d="M75.4,33.45H410.1V447.1H75.4Z M75.4,240.4H410.1" stroke="#333" stroke-width="1.1" fill="none"/>
<g fill="#383838">
<text x="124.6" y="16.2" font-size="20" textLength="231.8" lengthAdjust="spacingAndGlyphs">SRII-L0-M100-e1.0-J0.10</text>
<text x="26.3" y="80.0" font-size="14.8">10</text>
<rect x="41.5" y="70.31" width="8.3" height="0.75"/>
<text x="51.6" y="73.8" font-size="10.6" textLength="11" lengthAdjust="spacingAndGlyphs">16</text>
<text x="26.3" y="135.9" font-size="14.8">10</text>
<rect x="41.5" y="126.25" width="8.3" height="0.75"/>
<text x="51.6" y="129.7" font-size="10.6" textLength="11" lengthAdjust="spacingAndGlyphs">17</text>
<text x="26.3" y="191.9" font-size="14.8">10</text>
<rect x="41.5" y="182.20" width="8.3" height="0.75"/>
<text x="51.6" y="185.7" font-size="10.6" textLength="11" lengthAdjust="spacingAndGlyphs">18</text>
<text x="26.3" y="247.8" font-size="14.8">10</text>
<rect x="41.5" y="238.15" width="8.3" height="0.75"/>
<text x="51.6" y="241.6" font-size="10.6" textLength="11" lengthAdjust="spacingAndGlyphs">19</text>
<text x="63.2" y="297.7" font-size="14.8" textLength="14.8" lengthAdjust="spacingAndGlyphs" text-anchor="end">10</text>
<text x="63.2" y="349.4" font-size="14.8" text-anchor="end">1</text>
<text x="63.2" y="401.0" font-size="14.8" textLength="19.0" lengthAdjust="spacingAndGlyphs" text-anchor="end">0.1</text>
<text x="63.2" y="452.7" font-size="14.8" textLength="26.9" lengthAdjust="spacingAndGlyphs" text-anchor="end">0.01</text>
<text x="422.6" y="66" font-size="14.8" textLength="14.8" lengthAdjust="spacingAndGlyphs">51</text>
<text x="422.6" y="177.6" font-size="14.8" textLength="14.8" lengthAdjust="spacingAndGlyphs">49</text>
<text x="137.4" y="470.6" font-size="14.8" text-anchor="middle">10</text>
<text x="261.3" y="470.6" font-size="14.8" text-anchor="middle">20</text>
<text x="385.3" y="470.6" font-size="14.8" text-anchor="middle">30</text>
<text x="243.2" y="490.4" font-size="15.5" text-anchor="middle" font-style="italic">z</text>
<g transform="translate(13.5,159.5) rotate(-90)">
<text x="0.2" y="0" font-size="15" textLength="6.2" lengthAdjust="spacingAndGlyphs" font-style="italic">ξ</text>
<text x="10.8" y="-0.4" font-size="17.5">(</text>
<text x="16.1" y="0" font-size="15" textLength="5" lengthAdjust="spacingAndGlyphs">s</text>
<rect x="23" y="-8.4" width="6.2" height="0.75"/>
<text x="30.5" y="-5.5" font-size="10.6">1</text>
<text x="38.2" y="-0.4" font-size="17.5">)</text>
</g>
<g transform="translate(19.8,357.5) rotate(-90)">
<text x="0" y="0" font-size="15.5" textLength="7.8" lengthAdjust="spacingAndGlyphs" font-style="italic">x</text>
<text x="9.1" y="3.1" font-size="11" textLength="18.3" lengthAdjust="spacingAndGlyphs">LW</text>
</g>
<g transform="translate(464.9,212.3) rotate(-90)">
<text x="0.6" y="0" font-size="15" textLength="22.3" lengthAdjust="spacingAndGlyphs">log</text>
<text x="26.6" y="0" font-size="14.5" textLength="11.7" lengthAdjust="spacingAndGlyphs" font-style="italic">N</text>
<circle cx="34.7" cy="-12.7" r="0.85"/>
<text x="39.1" y="3.2" font-size="10.8" textLength="17.1" lengthAdjust="spacingAndGlyphs">ion</text>
<text x="60.8" y="0.8" font-size="16.5">[</text>
<text x="64.3" y="0" font-size="15" textLength="5.6" lengthAdjust="spacingAndGlyphs">s</text>
<rect x="71" y="-8.5" width="6.2" height="0.75"/>
<text x="78.3" y="-5.6" font-size="10.6">1</text>
<text x="89.3" y="0" font-size="15" textLength="35" lengthAdjust="spacingAndGlyphs">cMpc</text>
<rect x="126" y="-8.5" width="6.2" height="0.75"/>
<text x="133.6" y="-5.6" font-size="10.6" textLength="7" lengthAdjust="spacingAndGlyphs">3</text>
<text x="141.2" y="0.8" font-size="16.5">]</text>
</g>
</g>
<path d="M288.2,151.4H311" stroke="#1a1a1a" stroke-width="3.2" stroke-linecap="round" stroke-dasharray="0.01 6.6" fill="none"/>
<path d="M288.2,167.9H311.1" stroke="#e8202a" stroke-width="1.7" stroke-dasharray="11.5 3.7" fill="none"/>
<path d="M287.3,184.8H312" stroke="#23239b" stroke-width="2.4" stroke-dasharray="1.9 2.7 8.2 2.3 2.3 2.3 8" fill="none"/>
<path d="M288.2,201.9H310.7" stroke="#f6b48c" stroke-width="1.4" fill="none"/>
<circle cx="299.6" cy="220.9" r="3.5" fill="#1a1a1a"/>
<text x="319" y="156" font-size="14.8" fill="#383838" textLength="24.3" lengthAdjust="spacingAndGlyphs">MH</text>
<text x="319" y="173.3" font-size="14.8" fill="#383838" textLength="56.9" lengthAdjust="spacingAndGlyphs">LMACH</text>
<text x="319" y="190.1" font-size="14.8" fill="#383838" textLength="58.7" lengthAdjust="spacingAndGlyphs">HMACH</text>
<text x="319" y="207.2" font-size="14.8" fill="#383838" textLength="30.6" lengthAdjust="spacingAndGlyphs">total</text>
<text x="319" y="226.4" font-size="14.8" fill="#383838" textLength="66.4" lengthAdjust="spacingAndGlyphs">Calverly+</text>
</svg>
</body></html>
